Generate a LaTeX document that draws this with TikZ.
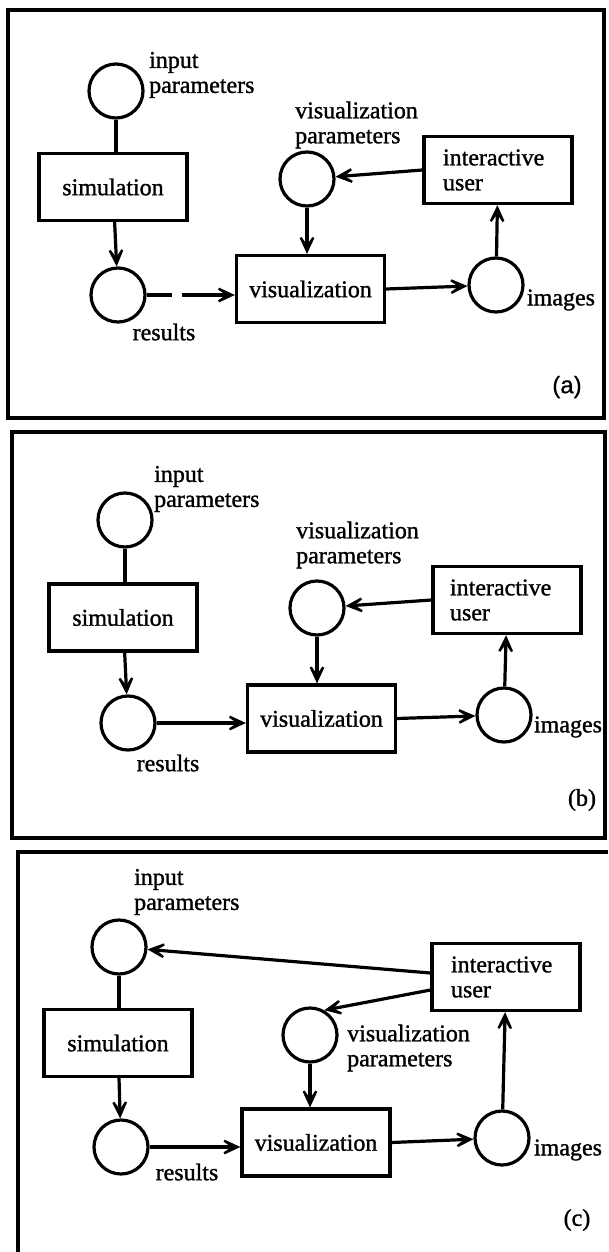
\documentclass[tikz,border=0pt]{standalone}
\usepackage{fontspec}
\setmainfont{Liberation Serif}
\newfontfamily\escaneo[FakeBold=1.2]{Liberation Serif}
\newfontfamily\etiqsans[FakeBold=0.6]{Liberation Sans}
\usetikzlibrary{arrows.meta}

\begin{document}
\begin{tikzpicture}[x=1pt,y=-1pt,
    caja/.style={draw,line width=3.2pt,minimum width=148pt,minimum height=67pt,inner sep=0pt,font=\fontsize{24}{25}\escaneo},
    dato/.style={draw,circle,line width=3.2pt,minimum size=54pt,inner sep=0pt},
    etiq/.style={inner sep=0pt,align=left,font=\fontsize{24}{25}\escaneo},
    flujo/.style={line width=3.2pt,-{Stealth[length=28pt,width=26pt,inset=19pt,line width=2.4pt]}},
    marco/.style={line width=4pt}]
    \useasboundingbox (0,0) rectangle (608,1252);
    % Marcos
    \draw[marco] (8,10) rectangle (604,418);
    \draw[marco] (12,432) rectangle (605,838);
    \draw[marco] (18,1252) -- (18,852) -- (608,852);

    % Panel (a)
    \node[dato] (inA) at (116,91) {};
    \node[etiq,anchor=west] (inAlbl) at (149,75) {input\\parameters};
    \node[caja] (simA) at (113,187) {simulation};
    \node[dato] (resA) at (118,295) {};
    \node[etiq] (resAlbl) at (164,332) {results};
    \node[caja] (visA) at (310.5,289) {visualization};
    \node[dato] (vparA) at (307,179) {};
    \node[etiq,anchor=west] (vparAlbl) at (295,125) {visualization\\parameters};
    \node[caja,align=left,text width=110pt] (userA) at (498,170) {interactive\\user};
    \node[dato] (imgA) at (496,285) {};
    \node[etiq] (imgAlbl) at (561,300) {images};
    \node[etiq,font=\fontsize{24}{25}\etiqsans] (tagA) at (567,387) {(a)};
    \draw[line width=3.2pt] (inA) -- (inA |- simA.north);
    \draw[flujo] (simA) -- (resA);
    \draw[flujo,dash pattern=on 25pt off 10pt on 90pt off 0pt] (resA) -- (visA.west |- resA);
    \draw[flujo] (visA.east) -- (imgA);
    \draw[flujo] (imgA) -- (userA);
    \draw[flujo] (userA.west) -- (vparA);
    \draw[flujo] (vparA) -- (vparA |- visA.north);

    % Panel (b)
    \node[dato] (inB) at (125,520) {};
    \node[etiq,anchor=west] (inBlbl) at (154,489) {input\\parameters};
    \node[caja] (simB) at (123,617.5) {simulation};
    \node[dato] (resB) at (128,723) {};
    \node[etiq] (resBlbl) at (168,763) {results};
    \node[caja] (visB) at (321.5,718.5) {visualization};
    \node[dato] (vparB) at (317,608) {};
    \node[etiq,anchor=west] (vparBlbl) at (296,545) {visualization\\parameters};
    \node[caja,align=left,text width=114pt] (userB) at (507,600) {interactive\\user};
    \node[dato] (imgB) at (504,715) {};
    \node[etiq] (imgBlbl) at (568,727) {images};
    \node[etiq] (tagB) at (582,800) {(b)};
    \draw[line width=3.2pt] (inB) -- (inB |- simB.north);
    \draw[flujo] (simB) -- (resB);
    \draw[flujo] (resB) -- (visB.west |- resB);
    \draw[flujo] (visB.east) -- (imgB);
    \draw[flujo] (imgB) -- (userB);
    \draw[flujo] (userB.west) -- (vparB);
    \draw[flujo] (vparB) -- (vparB |- visB.north);

    % Panel (c)
    \node[dato] (inC) at (119,947) {};
    \node[etiq,anchor=west] (inClbl) at (134,892) {input\\parameters};
    \node[caja] (simC) at (118,1043) {simulation};
    \node[dato] (resC) at (121,1147) {};
    \node[etiq] (resClbl) at (187,1172) {results};
    \node[caja] (visC) at (316,1142.5) {visualization};
    \node[dato] (vparC) at (310,1035) {};
    \node[etiq,anchor=west] (vparClbl) at (347,1048) {visualization\\parameters};
    \node[caja,align=left,text width=110pt] (userC) at (506,977) {interactive\\user};
    \node[dato] (imgC) at (502,1138) {};
    \node[etiq] (imgClbl) at (568,1150) {images};
    \node[etiq] (tagC) at (577,1220) {(c)};
    \draw[line width=3.2pt] (inC) -- (inC |- simC.north);
    \draw[flujo] (simC) -- (resC);
    \draw[flujo] (resC) -- (visC.west |- resC);
    \draw[flujo] (visC.east) -- (imgC);
    \draw[flujo] (imgC) -- (userC);
    \draw[flujo] ([yshift=4pt]userC.west) -- (inC);
    \draw[flujo] ([yshift=-13pt]userC.west) -- (vparC.60);
    \draw[flujo] (vparC) -- (vparC |- visC.north);
\end{tikzpicture}
\end{document}
